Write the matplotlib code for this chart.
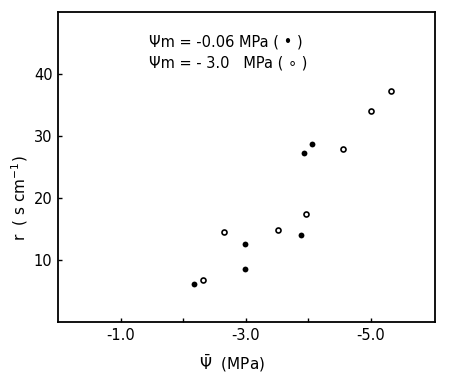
import matplotlib
matplotlib.use("Agg")
from matplotlib import pyplot as plt

# water potential (MPa) and resistance r (s cm-1)
psi_wet = [-2.17, -2.99, -2.99, -3.89, -3.94, -4.06]
r_wet = [6.2, 8.5, 12.6, 14.1, 27.3, 28.7]

psi_dry = [-2.31, -2.65, -3.51, -3.97, -4.55, -5.0, -5.33]
r_dry = [6.8, 14.5, 14.8, 17.4, 27.9, 34.1, 37.3]

xticks = [-1.0, -2.0, -3.0, -4.0, -5.0]
xticklabels = ["-1.0", "", "-3.0", "", "-5.0"]
yticks = [10, 20, 30, 40]

fig = plt.figure(figsize=(4.5, 3.78), dpi=100)
ax = fig.add_axes([0.129, 0.148, 0.838, 0.82])

ax.plot(psi_wet, r_wet, 'o', color='black', ms=4.2, mew=0)
ax.plot(psi_dry, r_dry, 'o', mfc='white', mec='black', ms=3.6, mew=1.2)

ax.set_xlim(0, -6.03)
ax.set_ylim(0, 50)
ax.set_xticks(xticks)
ax.set_xticklabels(xticklabels)
ax.set_yticks(yticks)
ax.tick_params(direction='in', length=3, width=1, labelsize=10.5, pad=4)
for sp in ax.spines.values():
    sp.set_linewidth(1.3)

ax.set_xlabel(r"$\bar{\Psi}$  (MPa)", fontsize=11)
ax.xaxis.set_label_coords(0.46, -0.10)
ax.set_ylabel(r"r  ( s cm$^{-1}$)", fontsize=11)
ax.yaxis.set_label_coords(-0.075, 0.40)

ax.text(0.24, 0.905, "\u03a8m = -0.06 MPa ( \u2022 )", transform=ax.transAxes,
        fontsize=10.5, va='center')
ax.text(0.24, 0.835, "\u03a8m = - 3.0   MPa ( \u2218 )", transform=ax.transAxes,
        fontsize=10.5, va='center')

fig.savefig("out.png", dpi=100)
